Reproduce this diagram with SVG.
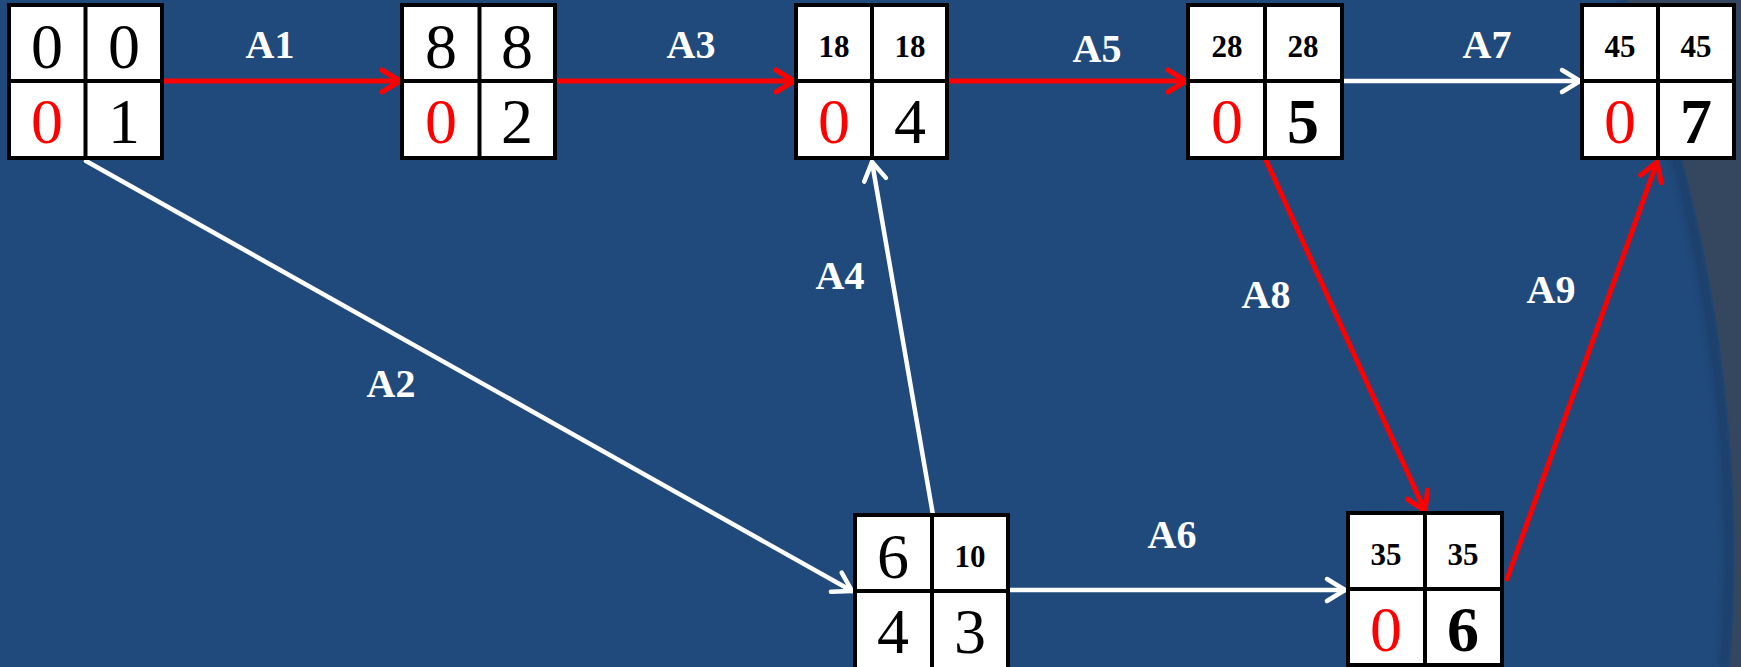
<svg xmlns="http://www.w3.org/2000/svg" width="1741" height="667" viewBox="0 0 1741 667">
<style>
.cell{fill:#ffffff;stroke:#000;stroke-width:4}
.div{stroke:#000;stroke-width:4}
text{font-family:'Liberation Serif','Times New Roman',Times,'DejaVu Serif',serif;text-anchor:middle}
.big{font-size:64px;fill:#000}
.bigb{font-size:64px;font-weight:bold;fill:#000}
.sm{font-size:31px;font-weight:bold;fill:#000}
.red{fill:#ff0000}
.lbl{font-size:40px;font-weight:bold;fill:#ffffff}
.cr{stroke:#ff0000;stroke-width:5;fill:none;stroke-linecap:round}
.cw{stroke:#ffffff;stroke-width:4.5;fill:none;stroke-linecap:round}
</style>
<defs>
<marker id="ar" markerUnits="userSpaceOnUse" orient="auto" markerWidth="40" markerHeight="40" refX="20" refY="20" viewBox="0 0 40 40" overflow="visible">
<path d="M2,9 L20,20 L2,31" fill="none" stroke="#ff0000" stroke-width="5" stroke-linecap="round" stroke-linejoin="round"/>
</marker>
<marker id="aw" markerUnits="userSpaceOnUse" orient="auto" markerWidth="40" markerHeight="40" refX="20" refY="20" viewBox="0 0 40 40" overflow="visible">
<path d="M2,9 L20,20 L2,31" fill="none" stroke="#ffffff" stroke-width="4.5" stroke-linecap="round" stroke-linejoin="round"/>
</marker>
<filter id="blur" x="-0.2" y="-0.2" width="1.4" height="1.4"><feGaussianBlur stdDeviation="3"/></filter>
</defs>
<rect x="0" y="0" width="1741" height="667" fill="#214a7c"/>
<path d="M1622,0 C1694,170 1744,420 1724,667" fill="none" stroke="#1a3c66" stroke-width="10" opacity="0.8" filter="url(#blur)"/>
<path d="M1628,0 C1700,170 1750,420 1730,667 L1741,667 L1741,0 Z" fill="#34475f"/>

<g id="connectors">
<line class="cr" x1="162" y1="81" x2="400" y2="81" marker-end="url(#ar)"/>
<line class="cr" x1="555" y1="81" x2="794" y2="81" marker-end="url(#ar)"/>
<line class="cr" x1="947" y1="81" x2="1186" y2="81" marker-end="url(#ar)"/>
<line class="cw" x1="1342" y1="81" x2="1580" y2="81" marker-end="url(#aw)"/>
<line class="cw" x1="86" y1="161" x2="852" y2="591" marker-end="url(#aw)"/>
<line class="cw" x1="933" y1="515" x2="872" y2="162" marker-end="url(#aw)"/>
<line class="cw" x1="1010" y1="590" x2="1345" y2="590" marker-end="url(#aw)"/>
<line class="cr" x1="1265" y1="158" x2="1425" y2="511" marker-end="url(#ar)"/>
<line class="cr" x1="1507" y1="579" x2="1657" y2="162" marker-end="url(#ar)"/>
</g>

<g id="labels">
<text class="lbl" x="270" y="58">A1</text>
<text class="lbl" x="691" y="58">A3</text>
<text class="lbl" x="1097" y="62">A5</text>
<text class="lbl" x="1487" y="58">A7</text>
<text class="lbl" x="391" y="397">A2</text>
<text class="lbl" x="840" y="289">A4</text>
<text class="lbl" x="1172" y="548">A6</text>
<text class="lbl" x="1266" y="308">A8</text>
<text class="lbl" x="1551" y="303">A9</text>
</g>

<g id="n1">
<rect class="cell" x="9" y="5" width="153" height="153"/>
<line class="div" x1="85.5" y1="5" x2="85.5" y2="158"/>
<line class="div" x1="9" y1="81" x2="162" y2="81"/>
<text class="big" x="47" y="68">0</text>
<text class="big" x="124" y="68">0</text>
<text class="big red" x="47" y="143">0</text>
<text class="big" x="124" y="143">1</text>
</g>

<g id="n2">
<rect class="cell" x="402" y="5" width="153" height="153"/>
<line class="div" x1="479.5" y1="5" x2="479.5" y2="158"/>
<line class="div" x1="402" y1="81" x2="555" y2="81"/>
<text class="big" x="441" y="68">8</text>
<text class="big" x="517" y="68">8</text>
<text class="big red" x="441" y="143">0</text>
<text class="big" x="517" y="143">2</text>
</g>

<g id="n3">
<rect class="cell" x="796" y="5" width="151" height="153"/>
<line class="div" x1="872" y1="5" x2="872" y2="158"/>
<line class="div" x1="796" y1="81" x2="947" y2="81"/>
<text class="sm" x="834" y="57">18</text>
<text class="sm" x="910" y="57">18</text>
<text class="big red" x="834" y="143">0</text>
<text class="big" x="910" y="143">4</text>
</g>

<g id="n4">
<rect class="cell" x="1188" y="5" width="154" height="153"/>
<line class="div" x1="1265" y1="5" x2="1265" y2="158"/>
<line class="div" x1="1188" y1="81" x2="1342" y2="81"/>
<text class="sm" x="1227" y="57">28</text>
<text class="sm" x="1303" y="57">28</text>
<text class="big red" x="1227" y="143">0</text>
<text class="bigb" x="1303" y="143">5</text>
</g>

<g id="n5">
<rect class="cell" x="1582" y="5" width="152" height="153"/>
<line class="div" x1="1658" y1="5" x2="1658" y2="158"/>
<line class="div" x1="1582" y1="81" x2="1734" y2="81"/>
<text class="sm" x="1620" y="57">45</text>
<text class="sm" x="1696" y="57">45</text>
<text class="big red" x="1620" y="143">0</text>
<text class="bigb" x="1696" y="143">7</text>
</g>

<g id="n6">
<rect class="cell" x="855" y="515" width="153" height="155"/>
<line class="div" x1="932" y1="515" x2="932" y2="670"/>
<line class="div" x1="855" y1="591" x2="1008" y2="591"/>
<text class="big" x="893" y="578">6</text>
<text class="sm" x="970" y="567">10</text>
<text class="big" x="893" y="653">4</text>
<text class="big" x="970" y="653">3</text>
</g>

<g id="n7">
<rect class="cell" x="1348" y="513" width="154" height="152"/>
<line class="div" x1="1425" y1="513" x2="1425" y2="665"/>
<line class="div" x1="1348" y1="589" x2="1502" y2="589"/>
<text class="sm" x="1386" y="565">35</text>
<text class="sm" x="1463" y="565">35</text>
<text class="big red" x="1386" y="651">0</text>
<text class="bigb" x="1463" y="651">6</text>
</g>
</svg>
